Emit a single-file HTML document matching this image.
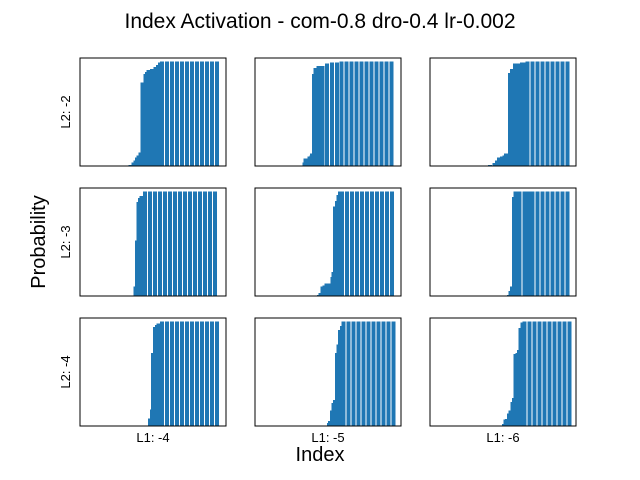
<!DOCTYPE html>
<html><head><meta charset="utf-8"><style>
body{margin:0;background:#fff}
svg{display:block;font-family:"Liberation Sans","DejaVu Sans",sans-serif}
</style></head><body>
<svg id="chart" width="640" height="480" viewBox="0 0 640 480">
<text x="320" y="28" text-anchor="middle" font-size="21">Index Activation - com-0.8 dro-0.4 lr-0.002</text>
<text transform="translate(45,242) rotate(-90)" text-anchor="middle" font-size="20">Probability</text>
<text x="320" y="461" text-anchor="middle" font-size="20">Index</text>
</svg>
<script>
const rowLabels = ["L2: -2", "L2: -3", "L2: -4"];
const colLabels = ["L1: -4", "L1: -5", "L1: -6"];
const xs1 = [9.7,10.3,10.7,11,11.3,11.7,12.1,12.7,13,13.3,14,14.7,15.2,15.6,16,17,18,19,20,21,22,23,24,25,26,27];
const ys1 = [0.01,0.035,0.055,0.08,0.1,0.13,0.8,0.88,0.9,0.92,0.93,0.95,0.97,0.99,1,1,1,1,1,1,1,1,1,1,1,1];
const xs2 = [9.5,9.7,10.5,10.9,11,11.4,11.7,12.3,13.1,14,15,16,16.9,17.9,18.9,19.9,20.9,21.9,22.9,23.9,24.9,25.9,26.9];
const ys2 = [0.035,0.07,0.09,0.1,0.12,0.88,0.94,0.96,0.96,0.98,0.99,0.99,1,1,1,1,1,1,1,1,1,1,1];
const xs3 = [11.6,12.5,13,13.4,14,14.5,14.8,15.6,16,16.6,17.3,18,18.5,19.1,20.1,21.1,22.1,23.1,24.1,25.1,26.1,27.1];
const ys3 = [0.01,0.03,0.055,0.08,0.09,0.1,0.12,0.89,0.93,0.98,0.98,0.99,0.99,1,1,1,1,1,1,1,1,1,1,1];
const xs4 = [10.4,10.7,11,11.3,11.6,11.9,12.3,12.6,13.6,14.6,15.6,16.6,17.6,18.6,19.6,20.6,21.6,22.6,23.6,24.6,25.6,26.6];
const ys4 = [0.005,0.09,0.53,0.9,0.94,0.96,0.96,1,1,1,1,1,1,1,1,1,1,1,1,1,1,1];
const xs5 = [12.4,12.7,13.1,13.5,13.9,14.3,15.1,15.3,15.6,16,16.3,16.6,17,18,19,20,21,22,23,24,25,26,27];
const ys5 = [0.01,0.03,0.09,0.1,0.12,0.12,0.18,0.23,0.86,0.91,0.97,1,1,1,1,1,1,1,1,1,1,1,1];
const xs6 = [15.4,15.7,16,16.4,16.7,17.5,18.5,19.3,20.1,21.1,22.1,23.1,24.1,25.1,26.1,27.1];
const ys6 = [0.01,0.05,0.09,0.95,1,1,1,1,1,1,1,1,1,1,1,1];
const xs7 = [13.6,14,14.2,14.6,15,15.3,16,17,18,19,20,21,22,23,24,25,26,27];
const ys7 = [0.07,0.16,0.7,0.95,0.97,0.98,1,1,1,1,1,1,1,1,1,1,1,1];
const xs8 = [14.4,14.6,15,15.3,15.6,16,16.3,16.6,17,17.3,18.3,19.3,20.3,21.3,22.3,23.3,24.3,25.3,26.3,27.3];
const ys8 = [0.03,0.05,0.15,0.22,0.25,0.7,0.78,0.92,0.96,1,1,1,1,1,1,1,1,1,1,1];
const xs9 = [14,14.4,14.7,15,15.4,15.7,16.1,16.4,16.7,17.1,17.4,17.7,18.1,18.5,19.5,20.5,21.5,22.5,23.5,24.5,25.5,26.5,27.5];
const ys9 = [0.005,0.02,0.06,0.065,0.12,0.15,0.23,0.27,0.69,0.7,0.73,0.94,0.99,1,1,1,1,1,1,1,1,1,1];
const panelsX = [xs1,xs2,xs3,xs4,xs5,xs6,xs7,xs8,xs9];
const panelsY = [ys1,ys2,ys3,ys4,ys5,ys6,ys7,ys8,ys9];

const NS = "http://www.w3.org/2000/svg";
const svg = document.getElementById("chart");
const colLeft = [80,255,430], rowTop = [58,188,318], W = 146, H = 108;
const XMAX = 29.2, YMAX = 1.035, BW = 0.8;
function mk(tag, attrs){const e=document.createElementNS(NS,tag);for(const k in attrs)e.setAttribute(k,attrs[k]);return e;}
for(let r=0;r<3;r++){for(let c=0;c<3;c++){
  const i=r*3+c, L=colLeft[c], T=rowTop[r];
  const g=mk("g",{"shape-rendering":"crispEdges"});
  
  
  svg.appendChild(g);
  const sx=v=>L+v/XMAX*W, sy=v=>T+H-v/YMAX*H;
  panelsX[i].forEach((xv,j)=>{
    const yv=panelsY[i][j];
    const b=mk("rect",{x:sx(xv),y:sy(yv),width:BW/XMAX*W,height:T+H-sy(yv),fill:"#1f77b4"});
    
    
    g.appendChild(b);
  });
  const fr=mk("rect",{x:L,y:T,width:W,height:H,fill:"none",stroke:"#000","stroke-width":1});
  
  
  g.appendChild(fr);
  if(c===0){
    const t=mk("text",{transform:`translate(${L-10},${T+H/2}) rotate(-90)`,"text-anchor":"middle","font-size":13});
    t.textContent=rowLabels[r];
    
    
    svg.appendChild(t);
  }
  if(r===2){
    const t=mk("text",{x:L+W/2,y:T+H+16,"text-anchor":"middle","font-size":13});
    t.textContent=colLabels[c];
    
    
    svg.appendChild(t);
  }
}}
</script>
</body></html>
